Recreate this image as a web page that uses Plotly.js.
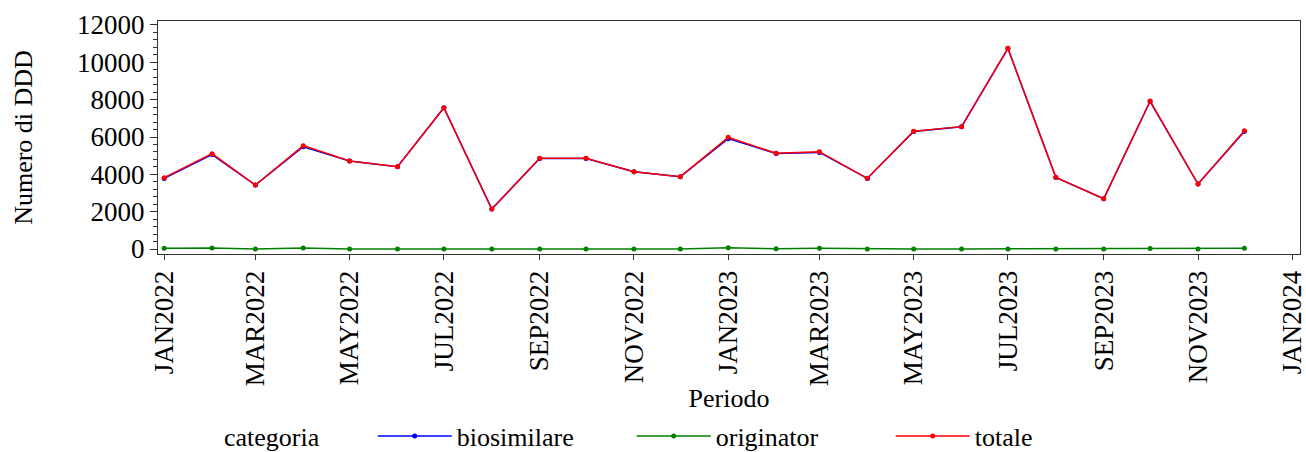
<!DOCTYPE html>
<html>
<head>
<meta charset="utf-8">
<script src="https://cdn.plot.ly/plotly-3.0.1.min.js"></script>
<style>html,body{margin:0;padding:0;background:#fff;}#chart{width:1306px;height:452px;}</style>
</head>
<body>
<div id="chart"></div>
<script>
const periods = ["2022-01-01","2022-02-01","2022-03-01","2022-04-01","2022-05-01","2022-06-01","2022-07-01","2022-08-01","2022-09-01","2022-10-01","2022-11-01","2022-12-01","2023-01-01","2023-02-01","2023-03-01","2023-04-01","2023-05-01","2023-06-01","2023-07-01","2023-08-01","2023-09-01","2023-10-01","2023-11-01","2023-12-01"];
const totale = [3820,5107,3429,5536,4714,4411,7571,2143,4857,4857,4143,3875,5982,5125,5214,3786,6304,6554,10750,3839,2696,7929,3482,6339];
const originator = [40,50,5,60,5,5,5,5,5,5,5,5,70,10,40,5,5,5,5,5,5,30,5,40];
const biosimilare = totale.map((t,i)=>t-originator[i]);
const tickDates = ["2022-01-01","2022-03-01","2022-05-01","2022-07-01","2022-09-01","2022-11-01","2023-01-01","2023-03-01","2023-05-01","2023-07-01","2023-09-01","2023-11-01","2024-01-01"];
const tickLabels = ["JAN2022","MAR2022","MAY2022","JUL2022","SEP2022","NOV2022","JAN2023","MAR2023","MAY2023","JUL2023","SEP2023","NOV2023","JAN2024"];
const yTickVals = [0,2000,4000,6000,8000,10000,12000];
const yTickLabels = ["0","2000","4000","6000","8000","10000","12000"];

const font = "Liberation Serif, Times New Roman, serif";
function tr(name, y, color){
  return {x: periods, y: y, name: name, type: "scatter", mode: "lines+markers",
    line: {color: color, width: 1.5}, marker: {color: color, size: 5, symbol: "circle"}, hoverinfo: "skip"};
}
const data = [tr("biosimilare", biosimilare, "#0000ff"), tr("originator", originator, "#008000"), tr("totale", totale, "#ff0000")];
const layout = {
  width: 1306, height: 452,
  margin: {l: 158, r: 6, t: 21, b: 198},
  paper_bgcolor: "#fff", plot_bgcolor: "#fff",
  font: {family: font, size: 27, color: "#000"},
  showlegend: true,
  legend: {orientation: "h", x: 0.056, xanchor: "left", yref: "container", y: 0.035, yanchor: "middle",
    title: {text: "categoria       ", side: "left", font: {size: 26}}, font: {size: 26},
    entrywidth: 170, entrywidthmode: "pixels", itemwidth: 74, tracegroupgap: 0},
  xaxis: {type: "date", range: ["2021-12-28", "2024-01-06"], tickmode: "array", tickvals: tickDates, ticktext: tickLabels,
    tickangle: -90, ticks: "outside", ticklen: 5, tickcolor: "#333", showgrid: false, zeroline: false,
    showline: true, linecolor: "#333", linewidth: 1, mirror: true, automargin: false, ticklabeloverflow: "allow",
    title: {text: "Periodo", font: {size: 26}, standoff: 38}, tickfont: {size: 27}},
  yaxis: {range: [-268, 12214], tickvals: yTickVals, ticktext: yTickLabels, tickmode: "array",
    ticks: "outside", ticklen: 7, tickcolor: "#333", showgrid: false, zeroline: false,
    showline: true, linecolor: "#333", linewidth: 1, mirror: true, automargin: false,
    minor: {dtick: 400, tick0: 0, ticks: "outside", ticklen: 4, tickcolor: "#333", showgrid: false},
    title: {text: "Numero di DDD", font: {size: 26}, standoff: 36}, tickfont: {size: 27}}
};
Plotly.newPlot("chart", data, layout, {staticPlot: true, displayModeBar: false});
</script>
</body>
</html>
